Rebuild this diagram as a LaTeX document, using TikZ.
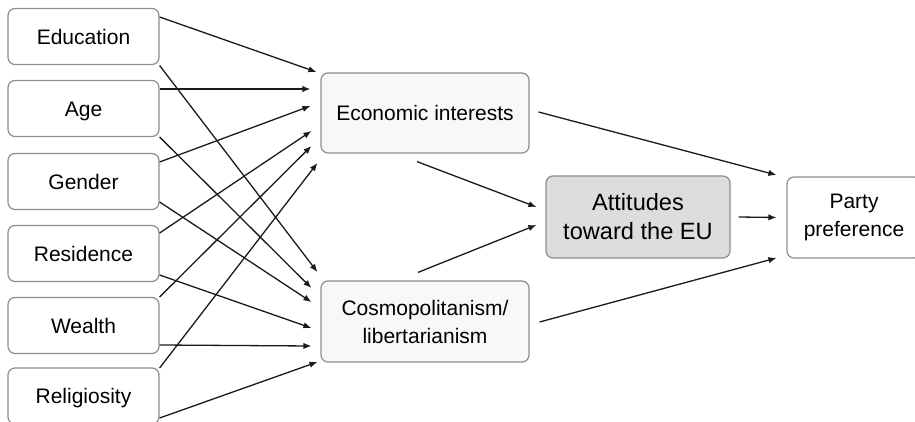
\documentclass[tikz,border=0pt]{standalone}
\usepackage{fontspec}
\setmainfont{Liberation Sans}
\usetikzlibrary{arrows.meta}

\definecolor{boxline}{HTML}{8E8E8E}
\definecolor{midfill}{HTML}{F8F8F8}
\definecolor{attfill}{HTML}{DDDDDD}
\definecolor{arrline}{HTML}{1A1A1A}

\begin{document}
\begin{tikzpicture}[x=0.5pt,y=-0.5pt]
\tikzstyle{every node}+=[inner sep=0pt, font=\fontsize{10.5}{14}\selectfont, align=center]
\tikzstyle{box}=[draw=boxline, line width=0.6pt, rounded corners=3.5pt, fill=white]
\tikzstyle{factor}=[box, minimum width=75.5pt, minimum height=28pt, text height=7.6pt, text depth=0pt]
\tikzstyle{mid}=[box, fill=midfill, minimum width=104pt, minimum height=40pt]
\tikzstyle{arr}=[arrline, line width=0.65pt, -{Latex[length=4pt,width=3.2pt]}]
\useasboundingbox (0,0) rectangle (915,422);
\clip (0,0) rectangle (915,422);
% left column
\node [factor] (edu) at (83.5,36.5) {Education};
\node [factor] (age) at (83.5,108.5) {Age};
\node [factor] (gen) at (83.5,181.5) {Gender};
\node [factor] (res) at (83.5,253.5) {Residence};
\node [factor] (wea) at (83.5,325.5) {Wealth};
\node [factor] (rel) at (83.5,396) {Religiosity};
% middle
\node [mid] (econ) at (425,113) {Economic interests};
\node [mid, minimum height=40.5pt] (cosmo) at (425,321.5) {Cosmopolitanism/\\libertarianism};
\node [box, fill=attfill, minimum width=92pt, minimum height=41pt,
  font=\fontsize{11.8}{14.5}\selectfont] (att) at (638,217) {Attitudes\\toward the EU};
\node [box, minimum width=67pt, minimum height=40.5pt] (party) at (854,217.5) {Party\\preference};
% into economic interests
\draw [arr] ([shift={(0,-19.5)}]edu.east) -- ([shift={(-4,-41)}]econ.west);
\draw [arr] ([shift={(0,-19.5)}]age.east) -- ([shift={(-10,-24)}]econ.west);
\draw [arr] ([shift={(0,-19.5)}]gen.east) -- ([shift={(-10,-7)}]econ.west);
\draw [arr] ([shift={(0,-20.5)}]res.east) -- ([shift={(-9,18)}]econ.west);
\draw [arr] ([shift={(0,-28.5)}]wea.east) -- ([shift={(-9,33)}]econ.west);
\draw [arr] ([shift={(0,-28)}]rel.east) -- ([shift={(-3,50)}]econ.west);
% into cosmopolitanism
\draw [arr] ([shift={(0,29)}]edu.east) -- ([shift={(-3,-49.5)}]cosmo.west);
\draw [arr] ([shift={(0,28.5)}]age.east) -- ([shift={(-9,-33.5)}]cosmo.west);
\draw [arr] ([shift={(0,20.5)}]gen.east) -- ([shift={(-9,-19.5)}]cosmo.west);
\draw [arr] ([shift={(0,21.5)}]res.east) -- ([shift={(-9,6.5)}]cosmo.west);
\draw [arr] ([shift={(0,19.5)}]wea.east) -- ([shift={(-9,24.5)}]cosmo.west);
\draw [arr] ([shift={(0,22)}]rel.east) -- ([shift={(-3,40.5)}]cosmo.west);
% right part
\draw [arr] ([shift={(-8,8)}]econ.south) -- ([shift={(-9,-10)}]att.west);
\draw [arr] ([shift={(-7,-8)}]cosmo.north) -- ([shift={(-9,8)}]att.west);
\draw [arr] ([shift={(9,-1)}]econ.east) -- ([shift={(-10,-42.5)}]party.west);
\draw [arr] ([shift={(10,0.5)}]cosmo.east) -- ([shift={(-10,40.5)}]party.west);
\draw [arr] ([shift={(8,0)}]att.east) -- ([shift={(-10,0)}]party.west);
\end{tikzpicture}
\end{document}
